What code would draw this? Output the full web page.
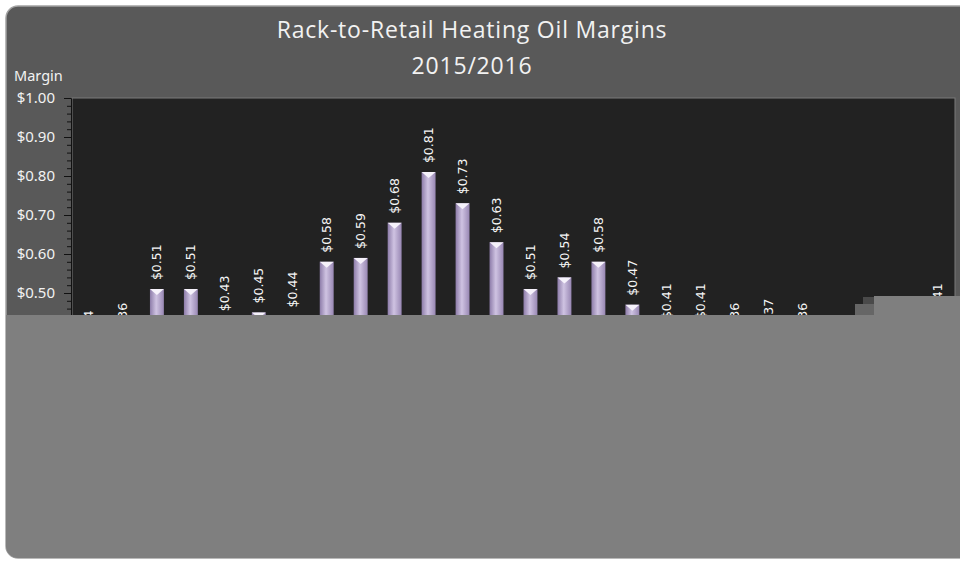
<!DOCTYPE html>
<html>
<head>
<meta charset="utf-8">
<script src="https://cdn.jsdelivr.net/npm/d3@7"></script>
<style>
  body { margin: 0; background: #fff; }
  svg { display: block; }
</style>
</head>
<body>
<div id="chart"></div>
<script>
const WIDTH = 960,
  HEIGHT = 561;

// margin per gallon, one bar per week (the last stretch of the season is
// hidden in the reference, those entries are left null)
const margins = [
  0.34, 0.36, 0.51, 0.51, 0.43, 0.45, 0.44, 0.58, 0.59, 0.68, 0.81, 0.73, 0.63,
  0.51, 0.54, 0.58, 0.47, 0.41, 0.41, 0.36, 0.37, 0.36, null, null, null, 0.41
];
const yTicks = [0, 0.1, 0.2, 0.3, 0.4, 0.5, 0.6, 0.7, 0.8, 0.9, 1.0];
const titleLines = ["Rack-to-Retail Heating Oil Margins", "2015/2016"];

const PLOT = { left: 72, right: 955, top: 98, bottom: 488 };

var svg = d3
  .select("#chart")
  .append("svg")
  .attr("width", WIDTH)
  .attr("height", HEIGHT);

var defs = svg.append("defs");

var grad = defs
  .append("linearGradient")
  .attr("id", "barGrad")
  .attr("x1", "0%")
  .attr("x2", "100%");
grad.append("stop").attr("offset", "0%").attr("stop-color", "#8d7ca9");
grad.append("stop").attr("offset", "45%").attr("stop-color", "#cfc3e2");
grad.append("stop").attr("offset", "100%").attr("stop-color", "#9887b3");

defs
  .append("clipPath")
  .attr("id", "frameClip")
  .append("rect")
  .attr("x", 6)
  .attr("y", 6)
  .attr("width", 1000)
  .attr("height", 552)
  .attr("rx", 12);

// chart frame
svg
  .append("rect")
  .attr("x", 6)
  .attr("y", 6)
  .attr("width", 1000)
  .attr("height", 552)
  .attr("rx", 12)
  .attr("fill", "#595959")
  .attr("stroke", "#a3a3a3")
  .attr("stroke-width", 1.5);

// title
svg
  .append("g")
  .selectAll("text")
  .data(titleLines)
  .enter()
  .append("text")
  .attr("x", 472)
  .attr("y", function(d, i) {
    return 38 + i * 36;
  })
  .attr("text-anchor", "middle")
  .attr("fill", "#f2f2f2")
  .attr("font-family", "'Open Sans', 'Noto Sans', sans-serif")
  .attr("font-size", 23)
  .attr("letter-spacing", 0.8)
  .text(function(d) {
    return d;
  });

svg
  .append("text")
  .attr("x", 14)
  .attr("y", 81)
  .attr("fill", "#f2f2f2")
  .attr("font-family", "'Noto Sans', sans-serif")
  .attr("font-size", 14.5)
  .text("Margin");

// plot area
svg
  .append("rect")
  .attr("x", PLOT.left)
  .attr("y", PLOT.top)
  .attr("width", PLOT.right - PLOT.left)
  .attr("height", PLOT.bottom - PLOT.top)
  .attr("fill", "#222222")
  .attr("stroke", "#7b7b7b")
  .attr("stroke-width", 1);

var x = d3
  .scaleBand()
  .domain(d3.range(margins.length))
  .range([PLOT.left, PLOT.right])
  .paddingInner(0.59)
  .paddingOuter(0.295);

var y = d3
  .scaleLinear()
  .domain([0, 1])
  .range([PLOT.bottom, PLOT.top]);

var minor = svg
  .append("g")
  .attr("transform", "translate(" + (PLOT.left - 1) + ",0)")
  .call(
    d3
      .axisLeft(y)
      .tickValues(d3.range(0, 1.001, 0.02))
      .tickSize(4)
      .tickFormat("")
  );
minor.select(".domain").remove();
minor.selectAll("line").attr("stroke", "#111");

var yAxis = svg
  .append("g")
  .attr("transform", "translate(" + (PLOT.left - 1) + ",0)")
  .call(
    d3
      .axisLeft(y)
      .tickValues(yTicks)
      .tickSize(7)
      .tickPadding(9)
      .tickFormat(d3.format("$.2f"))
  );
yAxis.select(".domain").attr("stroke", "#111");
yAxis.selectAll("line").attr("stroke", "#111");
yAxis
  .selectAll("text")
  .attr("fill", "#f2f2f2")
  .attr("font-family", "'Noto Sans', sans-serif")
  .attr("font-size", 15);

var bars = svg
  .append("g")
  .selectAll(".bar")
  .data(
    margins
      .map(function(v, i) {
        return { i: i, v: v };
      })
      .filter(function(d) {
        return d.v !== null;
      })
  )
  .enter()
  .append("g")
  .attr("class", "bar");

bars
  .append("rect")
  .attr("x", function(d) {
    return x(d.i);
  })
  .attr("y", function(d) {
    return y(d.v);
  })
  .attr("width", x.bandwidth())
  .attr("height", function(d) {
    return y(0) - y(d.v);
  })
  .attr("fill", "url(#barGrad)");

// bevelled top of each bar
bars
  .append("path")
  .attr("d", function(d) {
    var x0 = x(d.i),
      w = x.bandwidth(),
      t = y(d.v);
    return (
      "M" + x0 + "," + t +
      "L" + (x0 + w) + "," + t +
      "L" + (x0 + w / 2) + "," + (t + 6) + "Z"
    );
  })
  .attr("fill", "#f6f2fb");

bars
  .append("text")
  .attr("transform", function(d) {
    return (
      "translate(" + (x(d.i) + x.bandwidth() / 2) + "," + (y(d.v) - 9) + ") rotate(-90)"
    );
  })
  .attr("dy", "0.35em")
  .attr("fill", "#f6f6f6")
  .attr("font-family", "'DejaVu Sans', sans-serif")
  .attr("font-size", 12.5)
  .text(function(d) {
    return d3.format("$.2f")(d.v);
  });

// the reference is covered by grey patches below the $0.45 line
var cover = svg.append("g").attr("clip-path", "url(#frameClip)");
cover
  .append("rect")
  .attr("x", 0)
  .attr("y", 315)
  .attr("width", WIDTH)
  .attr("height", HEIGHT - 315)
  .attr("fill", "#7f7f7f");
cover
  .append("rect")
  .attr("x", 874)
  .attr("y", 296)
  .attr("width", WIDTH - 874)
  .attr("height", 19)
  .attr("fill", "#7f7f7f");
cover
  .append("rect")
  .attr("x", 855)
  .attr("y", 304)
  .attr("width", 19)
  .attr("height", 11)
  .attr("fill", "#666");
cover
  .append("rect")
  .attr("x", 863)
  .attr("y", 297)
  .attr("width", 11)
  .attr("height", 7)
  .attr("fill", "#4a4a4a");
</script>
</body>
</html>
